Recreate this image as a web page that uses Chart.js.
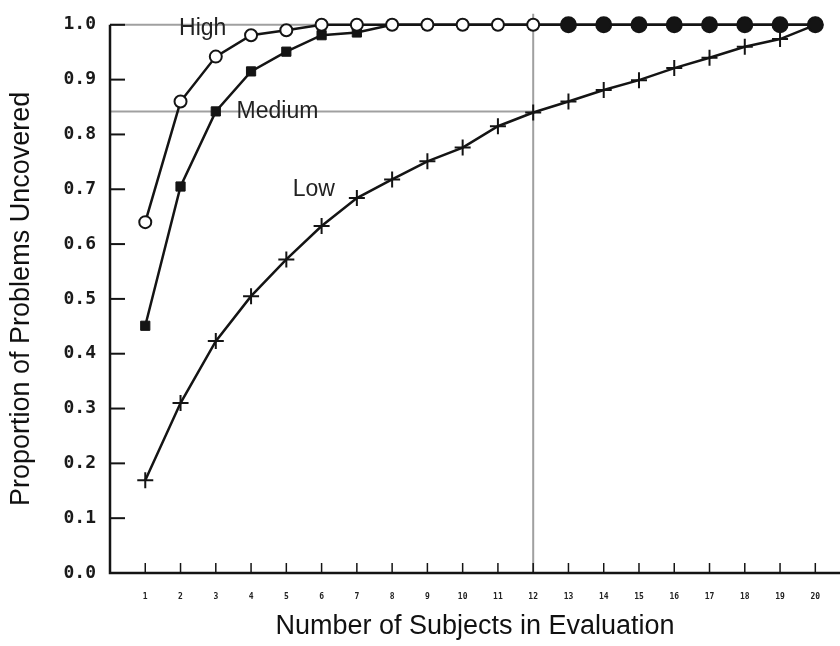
<!DOCTYPE html>
<html>
<head>
<meta charset="utf-8">
<script src="https://cdn.jsdelivr.net/npm/chart.js@4/dist/chart.umd.min.js"></script>
<style>
  html, body { margin: 0; padding: 0; background: #ffffff; }
  #wrap { width: 840px; height: 646px; }
</style>
</head>
<body>
<div id="wrap"><canvas id="c" width="840" height="646"></canvas></div>
<script>
// ---- data ----
const subjects = [1,2,3,4,5,6,7,8,9,10,11,12,13,14,15,16,17,18,19,20];
const high   = [0.640,0.860,0.942,0.981,0.990,1.000,1.000,1.000,1.000,1.000,1.000,1.000,1.000,1.000,1.000,1.000,1.000,1.000,1.000,1.000];
const medium = [0.451,0.705,0.842,0.915,0.951,0.981,0.986,1.000,1.000,1.000,1.000,1.000,1.000,1.000,1.000,1.000,1.000,1.000,1.000,1.000];
const low    = [0.169,0.310,0.423,0.505,0.572,0.633,0.684,0.718,0.751,0.776,0.815,0.840,0.860,0.881,0.899,0.921,0.940,0.960,0.974,1.000];
const yTicks = [0.0,0.1,0.2,0.3,0.4,0.5,0.6,0.7,0.8,0.9,1.0];
const xTicks = subjects;
const refX = 12;        // reference subject count
const refY = 0.842;     // proportion reached by Low at refX
const seriesNames = ['High','Medium','Low'];
const nameX = [2.63, 4.75, 5.78];
const nameY = [0.993, 0.842, 0.700];

const pts = arr => arr.map((v,i) => ({x: subjects[i], y: v}));

const INK = '#141414';
const GREY = 'rgba(150,150,150,0.9)';

const axisTicks = {
  id: 'axisTicks',
  afterDatasetsDraw(chart) {
    const {ctx, scales: {x, y}} = chart;
    ctx.save();
    ctx.strokeStyle = INK;
    ctx.lineCap = 'butt';
    // axis lines
    ctx.lineWidth = 2.5;
    ctx.beginPath();
    ctx.moveTo(x.left, y.getPixelForValue(1.0));
    ctx.lineTo(x.left, y.getPixelForValue(0));
    ctx.lineTo(x.right, y.getPixelForValue(0));
    ctx.stroke();
    // y ticks (inward)
    ctx.lineWidth = 2;
    yTicks.forEach(v => {
      if (v === 0) return;
      const py = y.getPixelForValue(v);
      ctx.beginPath(); ctx.moveTo(x.left, py); ctx.lineTo(x.left + 15, py); ctx.stroke();
    });
    // x ticks (inward)
    ctx.lineWidth = 1.5;
    const base = y.getPixelForValue(0);
    xTicks.forEach(v => {
      const px = x.getPixelForValue(v);
      ctx.beginPath(); ctx.moveTo(px, base); ctx.lineTo(px, base - 10); ctx.stroke();
    });
    // series names
    ctx.fillStyle = '#222';
    ctx.font = '23px "Liberation Sans", Arial, sans-serif';
    ctx.textAlign = 'center';
    ctx.textBaseline = 'middle';
    seriesNames.forEach((t,i) => {
      ctx.fillText(t, x.getPixelForValue(nameX[i]), y.getPixelForValue(nameY[i]));
    });
    ctx.restore();
  }
};

new Chart(document.getElementById('c'), {
  type: 'line',
  data: {
    datasets: [
      {
        label: 'High', data: pts(high), order: 1,
        borderColor: INK, borderWidth: 2.5, tension: 0,
        pointStyle: 'circle',
        pointRadius: c => c.dataIndex >= 12 ? 7.5 : 6,
        pointBorderWidth: 2,
        pointBorderColor: INK,
        pointBackgroundColor: c => c.dataIndex >= 12 ? INK : '#ffffff',
        clip: false
      },
      {
        label: 'Medium', data: pts(medium), order: 2,
        borderColor: INK, borderWidth: 2.5, tension: 0,
        pointStyle: 'rect', pointRadius: 6.5, pointBorderWidth: 1,
        pointBorderColor: INK, pointBackgroundColor: INK,
        clip: false
      },
      {
        label: 'Low', data: pts(low), order: 3,
        borderColor: INK, borderWidth: 2.5, tension: 0,
        pointStyle: 'cross', pointRadius: 8, pointBorderWidth: 2,
        pointBorderColor: INK, pointBackgroundColor: INK,
        clip: false
      },
      {
        label: 'ref-top', data: [{x:0,y:1.0},{x:refX,y:1.0}], order: 10,
        borderColor: GREY, borderWidth: 2, pointRadius: 0, clip: false
      },
      {
        label: 'ref-h', data: [{x:0,y:refY},{x:refX,y:refY}], order: 11,
        borderColor: GREY, borderWidth: 2, pointRadius: 0, clip: false
      },
      {
        label: 'ref-v', data: [{x:refX,y:0},{x:refX,y:1.02}], order: 12,
        borderColor: GREY, borderWidth: 2, pointRadius: 0, clip: false
      }
    ]
  },
  options: {
    responsive: false,
    animation: false,
    layout: { autoPadding: false, padding: { top: 23, right: 0, left: 0, bottom: 0 } },
    plugins: { legend: { display: false }, tooltip: { enabled: false } },
    elements: { line: { fill: false } },
    scales: {
      x: {
        type: 'linear', min: 0, max: 20.7,
        grid: { display: false, drawTicks: false },
        border: { display: false },
        afterFit: s => { s.height = 73; s.paddingRight = 0; s.paddingLeft = 0; },
        ticks: {
          stepSize: 1, autoSkip: false, maxRotation: 0, padding: 19,
          includeBounds: false,
          color: '#222',
          font: { family: '"DejaVu Sans Mono", monospace', size: 8, weight: 'bold' },
          callback: v => (Number.isInteger(v) && v >= 1 && v <= 20) ? String(v) : ''
        },
        title: {
          display: true, text: 'Number of Subjects in Evaluation',
          color: '#111', padding: { top: 0, bottom: 3 },
          font: { family: '"Liberation Sans", Arial, sans-serif', size: 27 }
        }
      },
      y: {
        type: 'linear', min: 0, max: 1.0,
        grid: { display: false, drawTicks: false },
        border: { display: false },
        afterFit: s => { s.width = 110; },
        ticks: {
          stepSize: 0.1, padding: 14, color: '#1a1a1a',
          font: { family: '"DejaVu Sans Mono", monospace', size: 18, weight: 'bold' },
          callback: v => Number(v).toFixed(1)
        },
        title: {
          display: true, text: 'Proportion of Problems Uncovered',
          color: '#111', padding: { top: 5, bottom: 0 },
          font: { family: '"Liberation Sans", Arial, sans-serif', size: 27 }
        }
      }
    }
  },
  plugins: [axisTicks]
});
</script>
</body>
</html>
